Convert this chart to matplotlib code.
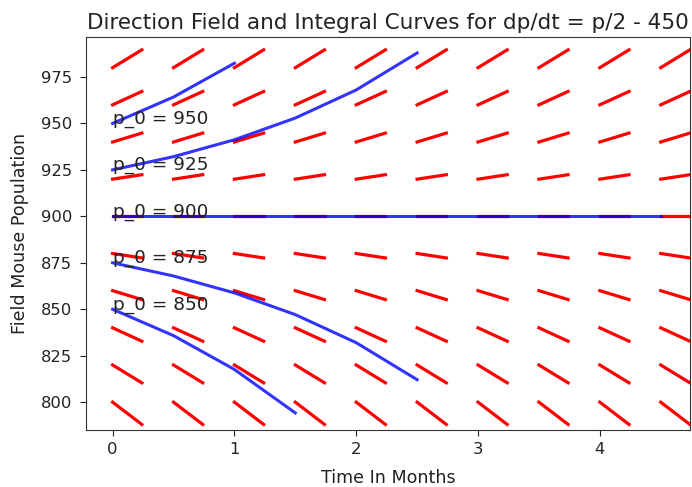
import numpy as np
import matplotlib
matplotlib.use("Agg")
import matplotlib.pyplot as plt

# direction field grid (slope per row)
field_t = [0, 0.5, 1, 1.5, 2, 2.5, 3, 3.5, 4, 4.5]
field_p = [800, 820, 840, 860, 880, 900, 920, 940, 960, 980]
field_slope = [-50, -40, -30, -20, -10, 0, 10, 20, 30, 40]
SEG_DT = 0.24  # horizontal length of each slope mark

# integral curves, sampled every half month
curve_p0 = [950, 925, 900, 875, 850]
curve_t = [
    [0, 0.5, 1],
    [0, 0.5, 1, 1.5, 2, 2.5],
    [0, 0.5, 1, 1.5, 2, 2.5, 3, 3.5, 4, 4.5],
    [0, 0.5, 1, 1.5, 2, 2.5],
    [0, 0.5, 1, 1.5],
]
curve_p = [
    [950, 964.2, 982.4],
    [925, 932.1, 941.2, 952.9, 968.0, 987.9],
    [900, 900, 900, 900, 900, 900, 900, 900, 900, 900],
    [875, 867.9, 858.8, 847.1, 832.0, 812.1],
    [850, 835.8, 817.6, 794.2],
]

fig = plt.figure(figsize=(6.92, 4.87), dpi=100)
ax = fig.add_axes([0.124, 0.117, 0.873, 0.807])

for p, s in zip(field_p, field_slope):
    for t in field_t:
        ax.plot([t, t + SEG_DT], [p, p + s * SEG_DT], color="red", lw=2.3)

for p0, ts, ps in zip(curve_p0, curve_t, curve_p):
    ax.plot(ts, ps, color="blue", alpha=0.8, lw=2.2)
    ax.text(ts[0], ps[0], "p_0 = %d" % p0, fontsize=13.3, color="#222222")

ax.set_xlim(-0.22, 4.74)
ax.set_ylim(785, 996.5)
ax.set_xticks([0, 1, 2, 3, 4])
ax.set_yticks([800, 825, 850, 875, 900, 925, 950, 975])
ax.tick_params(labelsize=11.8, length=4.5, colors="#222222")
ax.tick_params(axis="y", pad=5.5)
ax.tick_params(axis="x", pad=4)
for sp in ax.spines.values():
    sp.set_color("#333333")
ax.set_xlabel("Time In Months", fontsize=12.6, labelpad=9, color="#222222")
ax.set_ylabel("Field Mouse Population", fontsize=12.6, labelpad=8.5, color="#222222")
ax.set_title("Direction Field and Integral Curves for dp/dt = p/2 - 450",
             fontsize=15.5, color="#222222")

fig.savefig("out.png", dpi=100)
